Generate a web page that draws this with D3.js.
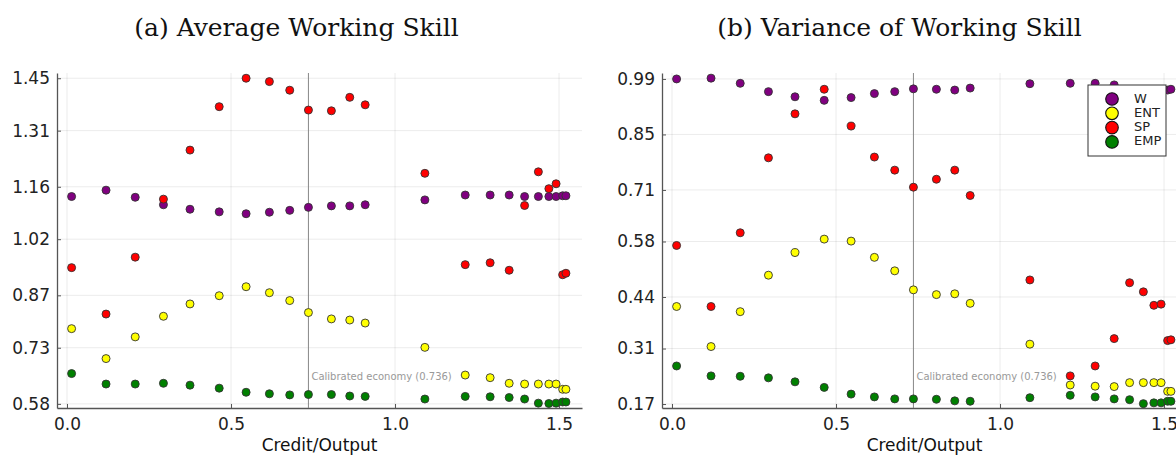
<!DOCTYPE html>
<html>
<head>
<meta charset="utf-8">
<script src="https://cdn.jsdelivr.net/npm/d3@7"></script>
<style>
  body { margin: 0; background: #fff; }
  svg text { font-family: "DejaVu Sans", sans-serif; }
</style>
</head>
<body>
<svg id="chart" width="1176" height="455"></svg>
<script>
// credit/output grid shared by both panels
const credit = [0.014, 0.119, 0.208, 0.294, 0.375, 0.464, 0.546, 0.617, 0.679, 0.736,
                0.806, 0.862, 0.909, 1.091, 1.214, 1.290, 1.348, 1.395, 1.437, 1.469,
                1.491, 1.511, 1.521];

// (a) average working skill
const avgW   = [1.134, 1.151, 1.132, 1.112, 1.100, 1.093, 1.088, 1.092, 1.097, 1.105,
                1.109, 1.109, 1.112, 1.125, 1.138, 1.138, 1.138, 1.134, 1.134, 1.134,
                1.134, 1.136, 1.136];
const avgENT = [0.781, 0.701, 0.759, 0.814, 0.847, 0.869, 0.893, 0.877, 0.856, 0.824,
                0.807, 0.804, 0.796, 0.731, 0.657, 0.650, 0.635, 0.633, 0.633, 0.633,
                0.633, 0.619, 0.619];
const avgSP  = [0.944, 0.820, 0.972, 1.127, 1.258, 1.374, 1.450, 1.441, 1.418, 1.365,
                1.363, 1.399, 1.379, 1.196, 0.952, 0.957, 0.937, 1.110, 1.200, 1.155,
                1.168, 0.925, 0.929];
const avgEMP = [0.661, 0.633, 0.633, 0.635, 0.630, 0.622, 0.611, 0.607, 0.604, 0.605,
                0.605, 0.601, 0.600, 0.593, 0.600, 0.599, 0.597, 0.593, 0.582, 0.581,
                0.582, 0.585, 0.585];

// (b) variance of working skill (points under the legend are guesses)
const varW   = [0.990, 0.992, 0.979, 0.958, 0.945, 0.936, 0.943, 0.953, 0.958, 0.965,
                0.964, 0.962, 0.967, 0.978, 0.979, 0.979, 0.975, 0.962, 0.960, 0.960,
                0.961, 0.962, 0.964];
const varENT = [0.416, 0.315, 0.403, 0.495, 0.552, 0.586, 0.581, 0.540, 0.506, 0.458,
                0.446, 0.448, 0.424, 0.321, 0.218, 0.215, 0.214, 0.224, 0.224, 0.224,
                0.224, 0.202, 0.202];
const varSP  = [0.570, 0.416, 0.602, 0.791, 0.902, 0.964, 0.871, 0.793, 0.760, 0.717,
                0.737, 0.760, 0.696, 0.483, 0.241, 0.266, 0.335, 0.476, 0.453, 0.419,
                0.422, 0.330, 0.332];
const varEMP = [0.266, 0.241, 0.240, 0.236, 0.226, 0.212, 0.195, 0.188, 0.183, 0.183,
                0.182, 0.178, 0.177, 0.186, 0.192, 0.188, 0.183, 0.181, 0.171, 0.173,
                0.173, 0.177, 0.177];

const seriesNames = ["W", "ENT", "SP", "EMP"];
const seriesColors = ["#800080", "#ffff00", "#ff0000", "#008000"];

const xTicks = [0.0, 0.5, 1.0, 1.5];
const avgTicks = [0.58, 0.73, 0.87, 1.02, 1.16, 1.31, 1.45];
const varTicks = [0.17, 0.31, 0.44, 0.58, 0.71, 0.85, 0.99];

const calibrated = 0.736;

const svg = d3.select("#chart");

function drawPanel(opts) {
  const g = svg.append("g");
  const x = d3.scaleLinear().domain([-0.0305, 1.570]).range([opts.left, opts.left + 525]);
  const y = d3.scaleLinear().domain(opts.ydomain).range([408, 73]);

  // grid
  g.selectAll(".gx").data(xTicks).enter().append("line")
    .attr("x1", d => x(d)).attr("x2", d => x(d))
    .attr("y1", 73).attr("y2", 408)
    .attr("stroke", "#000").attr("stroke-opacity", 0.08).attr("stroke-width", 1);
  g.selectAll(".gy").data(opts.ticks).enter().append("line")
    .attr("x1", opts.left).attr("x2", opts.left + 525)
    .attr("y1", d => y(d)).attr("y2", d => y(d))
    .attr("stroke", "#000").attr("stroke-opacity", 0.08).attr("stroke-width", 1);

  // axes
  const xAxis = d3.axisBottom(x).tickValues(xTicks).tickFormat(d3.format(".1f"))
    .tickSizeInner(-4).tickSizeOuter(0).tickPadding(10);
  const yAxis = d3.axisLeft(y).tickValues(opts.ticks).tickFormat(d3.format(".2f"))
    .tickSizeInner(-4).tickSizeOuter(0).tickPadding(7);

  const gx = g.append("g").attr("transform", "translate(0,408)").call(xAxis);
  const gy = g.append("g").attr("transform", "translate(" + opts.left + ",0)").call(yAxis);
  [gx, gy].forEach(a => {
    a.select(".domain").attr("stroke", "#555").attr("stroke-width", 1.3);
    a.selectAll(".tick line").attr("stroke", "#555");
    a.selectAll(".tick text").attr("fill", "#222").style("font-size", "17px")
      .style("font-family", "DejaVu Sans, sans-serif");
  });

  // calibrated economy line
  g.append("line")
    .attr("x1", x(calibrated)).attr("x2", x(calibrated))
    .attr("y1", 73).attr("y2", 408)
    .attr("stroke", "#888").attr("stroke-width", 1);
  g.append("text")
    .attr("x", x(calibrated) + 3).attr("y", y(opts.noteY))
    .attr("dominant-baseline", "middle")
    .attr("fill", "#999").style("font-size", "10px")
    .text("Calibrated economy (" + calibrated + ")");

  // points
  opts.series.forEach((vals, i) => {
    g.selectAll(".s" + i).data(vals).enter().append("circle")
      .attr("cx", (d, j) => x(credit[j]))
      .attr("cy", d => y(d))
      .attr("r", 4)
      .attr("fill", seriesColors[i])
      .attr("stroke", "#333").attr("stroke-width", 0.9);
  });

  // titles
  svg.append("text")
    .attr("x", opts.titleX).attr("y", 36)
    .attr("text-anchor", "middle")
    .style("font-family", "DejaVu Serif, serif").style("font-size", "25px")
    .attr("fill", "#111")
    .text(opts.title);
  svg.append("text")
    .attr("x", x(0.77)).attr("y", 451)
    .attr("text-anchor", "middle")
    .style("font-size", "17px").attr("fill", "#111")
    .text("Credit/Output");
  return {x, y};
}

drawPanel({
  left: 57, ydomain: [0.569, 1.464], ticks: avgTicks,
  series: [avgW, avgENT, avgSP, avgEMP], noteY: 0.652,
  title: "(a) Average Working Skill", titleX: 296.5
});
drawPanel({
  left: 662, ydomain: [0.160, 1.005], ticks: varTicks,
  series: [varW, varENT, varSP, varEMP], noteY: 0.238,
  title: "(b) Variance of Working Skill", titleX: 899.5
});

// legend
const lg = svg.append("g").attr("transform", "translate(1088,85)");
lg.append("rect").attr("width", 78).attr("height", 71)
  .attr("fill", "#fff").attr("stroke", "#333").attr("stroke-width", 1);
seriesNames.forEach((name, i) => {
  lg.append("circle").attr("cx", 24).attr("cy", 14 + i * 14.3).attr("r", 6.3)
    .attr("fill", seriesColors[i]).attr("stroke", "#111").attr("stroke-width", 1.1);
  lg.append("text").attr("x", 46).attr("y", 14 + i * 14.3)
    .attr("dominant-baseline", "middle").style("font-size", "13px").attr("fill", "#222")
    .text(name);
});
</script>
</body>
</html>
